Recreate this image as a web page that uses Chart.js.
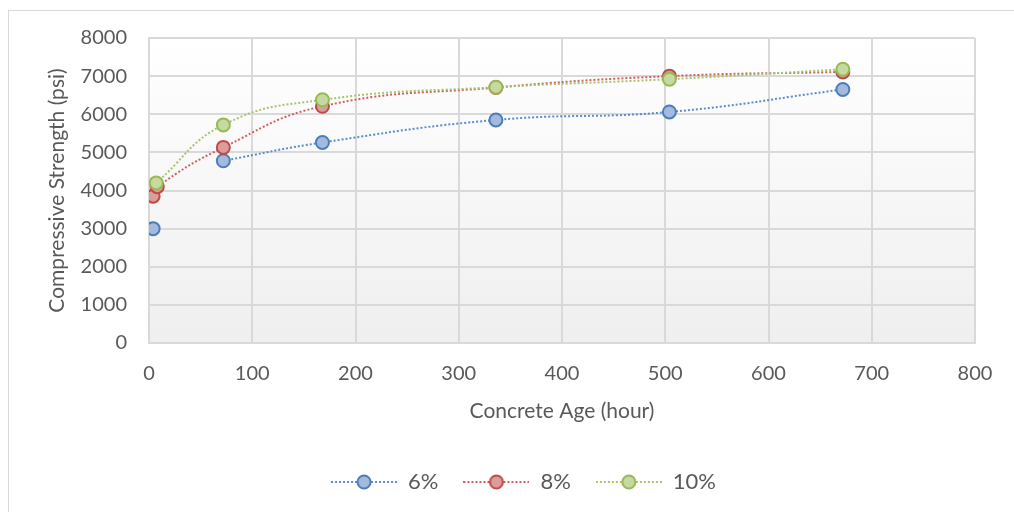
<!DOCTYPE html>
<html>
<head>
<meta charset="utf-8">
<script src="https://cdn.jsdelivr.net/npm/chart.js@4.4.1/dist/chart.umd.min.js"></script>
<style>
  html, body { margin: 0; padding: 0; background: #ffffff; }
  #wrap { position: relative; width: 1014px; height: 512px; }
</style>
</head>
<body>
<div id="wrap"><canvas id="chart"></canvas></div>
<script>
// Concrete age (hours) and compressive strength (psi) for each mix.
// A null leaves a gap in the curve, as for the 6% mix at 8 hours.
const hours6 = [4, 8, 72, 168, 336, 504, 672];
const strength6 = [3000, null, 4780, 5260, 5850, 6060, 6650];

const hours8 = [4, 8, 72, 168, 336, 504, 672];
const strength8 = [3850, 4100, 5130, 6210, 6700, 7000, 7110];

const hours10 = [7, 72, 168, 336, 504, 672];
const strength10 = [4200, 5720, 6380, 6710, 6920, 7180];

const seriesNames = ['6%', '8%', '10%'];
const xTicks = [0, 100, 200, 300, 400, 500, 600, 700, 800];
const yTicks = [0, 1000, 2000, 3000, 4000, 5000, 6000, 7000, 8000];

const FONT = 'Lato, "Open Sans", sans-serif';
const TEXT = '#595959';
const GRID = '#d9d9d9';

const styles = [
  { line: '#5b8bd0', edge: '#4a7ebb', fill: '#a3b9de' },
  { line: '#d0605d', edge: '#be4b48', fill: '#dc9c9a' },
  { line: '#a9c46c', edge: '#98b954', fill: '#c6d9a0' }
];

function pairs(xs, ys) {
  return xs.map((x, i) => ({ x: x, y: ys[i] }));
}

// Small legend swatch: dotted line with the series marker in the middle
function swatch(st) {
  const c = document.createElement('canvas');
  c.width = 66; c.height = 18;
  const g = c.getContext('2d');
  g.strokeStyle = st.line;
  g.lineWidth = 2;
  g.setLineDash([2, 2]);
  g.beginPath(); g.moveTo(0, 9); g.lineTo(66, 9); g.stroke();
  g.setLineDash([]);
  g.beginPath(); g.arc(33, 9, 6.5, 0, Math.PI * 2);
  g.fillStyle = st.fill; g.fill();
  g.lineWidth = 2; g.strokeStyle = st.edge; g.stroke();
  return c;
}

const allX = [hours6, hours8, hours10];
const allY = [strength6, strength8, strength10];

const datasets = seriesNames.map((name, i) => ({
  label: name,
  data: pairs(allX[i], allY[i]),
  showLine: true,
  spanGaps: false,
  tension: 0.45,
  borderColor: styles[i].line,
  borderWidth: 2,
  borderDash: [2, 2],
  pointRadius: 6.5,
  pointHoverRadius: 6.5,
  pointBorderWidth: 2,
  pointBackgroundColor: styles[i].fill,
  pointBorderColor: styles[i].edge,
  order: 3 - i
}));

const frameAndBackground = {
  id: 'frameAndBackground',
  beforeDraw(chart) {
    const ctx = chart.ctx;
    ctx.save();
    ctx.fillStyle = '#ffffff';
    ctx.fillRect(0, 0, chart.width, chart.height);
    ctx.strokeStyle = '#d9d9d9';
    ctx.lineWidth = 1;
    ctx.strokeRect(8.5, 10.5, 1200, 700);
    const a = chart.chartArea;
    const grad = ctx.createLinearGradient(0, a.top, 0, a.bottom);
    grad.addColorStop(0, '#ffffff');
    grad.addColorStop(1, '#efefef');
    ctx.fillStyle = grad;
    ctx.fillRect(a.left, a.top, a.right - a.left, a.bottom - a.top);
    ctx.restore();
  }
};

// Centre the legend row under the whole frame rather than the plot
const legendShift = {
  id: 'legendShift',
  afterLayout(chart) {
    const lg = chart.legend;
    if (!lg) return;
    lg.left += 36;
    lg.right += 36;
    (lg.legendHitBoxes || []).forEach(h => { h.left += 36; });
  }
};

new Chart(document.getElementById('chart'), {
  type: 'scatter',
  data: { datasets: datasets },
  plugins: [frameAndBackground, legendShift],
  options: {
    responsive: true,
    maintainAspectRatio: false,
    animation: false,
    events: [],
    layout: { padding: { top: 38, right: 39, bottom: 9, left: 0 } },
    scales: {
      x: {
        type: 'linear',
        min: 0, max: 800,
        afterBuildTicks(s) { s.ticks = xTicks.map(v => ({ value: v })); },
        afterFit(s) { s.height = 103; },
        grid: { color: GRID, lineWidth: 2, drawTicks: false },
        border: { color: GRID, width: 2 },
        ticks: { color: TEXT, font: { family: FONT, size: 20 }, padding: 19, maxRotation: 0,
                 callback: v => String(v) },
        title: { display: true, text: 'Concrete Age (hour)', color: TEXT,
                 font: { family: FONT, size: 21 }, padding: { top: 0, bottom: 22 } }
      },
      y: {
        type: 'linear',
        min: 0, max: 8000,
        afterBuildTicks(s) { s.ticks = yTicks.map(v => ({ value: v })); },
        afterFit(s) { s.width = 149; },
        grid: { color: GRID, lineWidth: 2, drawTicks: false },
        border: { color: GRID, width: 2 },
        ticks: { color: TEXT, font: { family: FONT, size: 20 }, padding: 22,
                 callback: v => String(v) },
        title: { display: true, text: 'Compressive Strength (psi)', color: TEXT,
                 font: { family: FONT, size: 21 }, padding: { top: 45, bottom: 0 } }
      }
    },
    plugins: {
      tooltip: { enabled: false },
      legend: {
        position: 'bottom',
        labels: {
          usePointStyle: true,
          pointStyleWidth: 66,
          padding: 25,
          color: TEXT,
          font: { family: FONT, size: 22 },
          generateLabels(chart) {
            return chart.data.datasets.map((ds, i) => ({
              text: ds.label,
              pointStyle: swatch(styles[i]),
              fillStyle: styles[i].fill,
              strokeStyle: styles[i].edge,
              lineWidth: 0,
              fontColor: TEXT,
              hidden: false,
              datasetIndex: i
            }));
          }
        }
      }
    }
  }
});
</script>
</body>
</html>
